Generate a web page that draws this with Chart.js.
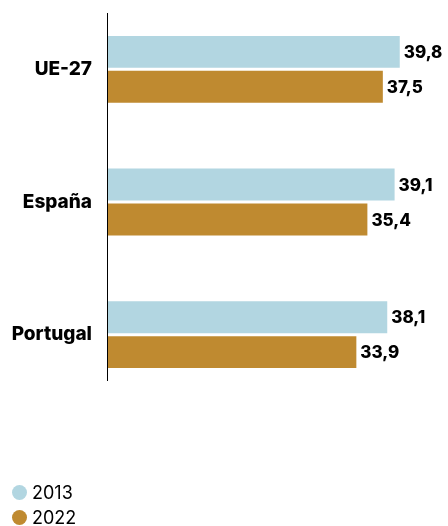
<!DOCTYPE html>
<html>
<head>
<meta charset="utf-8">
<script src="https://cdn.jsdelivr.net/npm/chart.js@4"></script>
<style>
  html, body { margin: 0; padding: 0; background: #fff; }
  #wrap { position: relative; width: 448px; height: 526px; }
  #barChart { display: block; }
  #legend { position: absolute; left: 12px; top: 480px; font-family: Inter, sans-serif; font-size: 18px; color: #000; }
  #legend div { display: flex; align-items: center; height: 25px; }
  #legend span.dot { width: 15px; height: 15px; border-radius: 50%; margin-right: 5px; display: inline-block; }
</style>
</head>
<body>
<div id="wrap">
  <canvas id="barChart" width="448" height="526"></canvas>
  <div id="legend"></div>
</div>
<script>
// datos
var categories = ['UE-27', 'España', 'Portugal'];
var years = ['2013', '2022'];
var values2013 = [39.8, 39.1, 38.1];
var values2022 = [37.5, 35.4, 33.9];
var colors = ['#b2d6e1', '#bf8a30'];

function fmt(v) {
    return v.toFixed(1).replace('.', ',');
}

// linea vertical del eje
var axisLine = {
    id: 'axisLine',
    afterDatasetsDraw: function (chart) {
        var ctx = chart.ctx;
        var area = chart.chartArea;
        var x = chart.scales.x.getPixelForValue(0);
        ctx.save();
        ctx.strokeStyle = '#000';
        ctx.lineWidth = 1;
        ctx.beginPath();
        ctx.moveTo(x + 0.5, area.top + 10);
        ctx.lineTo(x + 0.5, area.bottom - 20);
        ctx.stroke();
        ctx.restore();
    }
};

// etiquetas de valor
var valueLabels = {
    id: 'valueLabels',
    afterDatasetsDraw: function (chart) {
        var ctx = chart.ctx;
        ctx.save();
        ctx.font = '800 17px Inter, sans-serif';
        ctx.fillStyle = '#000';
        ctx.textBaseline = 'middle';
        ctx.textAlign = 'left';
        chart.data.datasets.forEach(function (ds, i) {
            chart.getDatasetMeta(i).data.forEach(function (bar, j) {
                ctx.fillText(fmt(ds.data[j]), bar.x + 4, bar.y + 1);
            });
        });
        ctx.restore();
    }
};

var ctx = document.getElementById('barChart').getContext('2d');

var chart = new Chart(ctx, {
    type: 'bar',
    data: {
        labels: categories,
        datasets: [{
            label: years[0],
            data: values2013,
            backgroundColor: colors[0],
            categoryPercentage: 0.527,
            barPercentage: 0.914
        }, {
            label: years[1],
            data: values2022,
            backgroundColor: colors[1],
            categoryPercentage: 0.527,
            barPercentage: 0.914
        }]
    },
    options: {
        indexAxis: 'y',
        responsive: false,
        animation: false,
        layout: {
            padding: { top: 3, right: 10, bottom: 125, left: 0 }
        },
        scales: {
            x: {
                display: false,
                min: 0,
                max: 45
            },
            y: {
                grid: { display: false, drawTicks: false },
                border: { display: false },
                ticks: {
                    color: '#000',
                    padding: 15,
                    font: { family: 'Inter, sans-serif', size: 19, weight: '800' }
                },
                afterFit: function (s) {
                    s.width = 107;
                    s.paddingTop = 0;
                    s.paddingBottom = 0;
                }
            }
        },
        plugins: {
            legend: { display: false },
            tooltip: { enabled: false }
        }
    },
    plugins: [axisLine, valueLabels]
});

// leyenda
var legend = document.getElementById('legend');
chart.data.datasets.forEach(function (ds) {
    var row = document.createElement('div');
    row.innerHTML = '<span class="dot" style="background:' + ds.backgroundColor + '"></span>' + ds.label;
    legend.appendChild(row);
});
</script>
</body>
</html>
